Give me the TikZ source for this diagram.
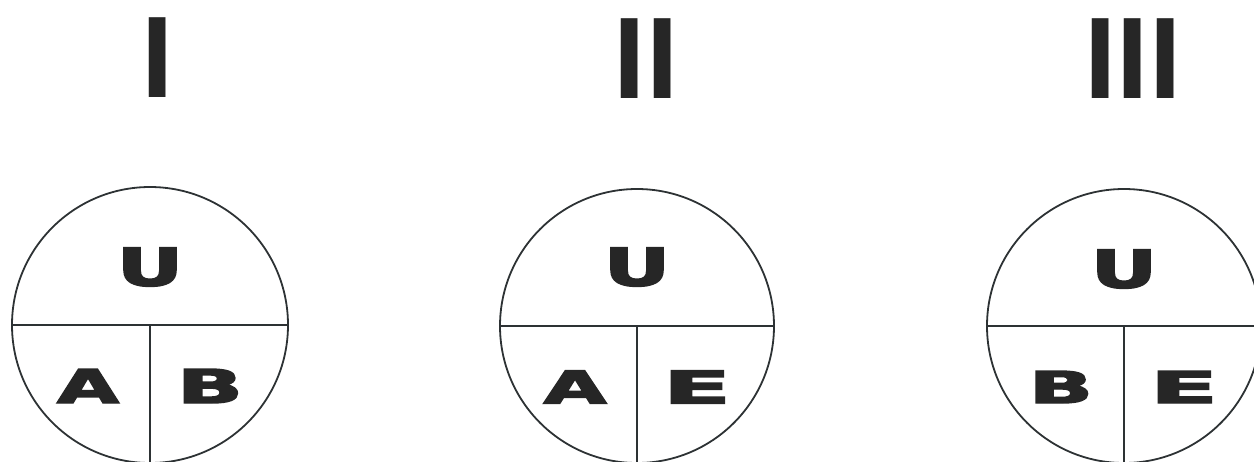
\documentclass[tikz,border=0pt]{standalone}
\usepackage{graphicx}
\usepackage{fontspec}
\newfontfamily\numfont{Liberation Sans}
\newfontfamily\letfont{DejaVu Sans}[BoldFeatures={FakeBold=3}]
\definecolor{ink}{RGB}{38,38,38}
\definecolor{rule}{RGB}{45,50,52}
\newcommand\wlet[3]{\resizebox{#1pt}{#2pt}{\letfont\bfseries #3}}
\tikzset{
  numeral/.style={inner sep=0pt, text=ink, font=\numfont\bfseries\fontsize{116}{116}\selectfont},
  letter/.style={inner sep=0pt, text=ink},
  disc/.style={draw=rule, line width=1.8pt},
  divider/.style={draw=rule, line width=1.7pt}
}
\begin{document}
\begin{tikzpicture}[x=1pt,y=-1pt]
\useasboundingbox (0,0) rectangle (1254,461);
\clip (0,0) rectangle (1254,461);
% numerals
\node[numeral] (n1) at (158,58) {I};
\node[numeral] (n2) at (646,59) {II};
\node[numeral] (n3) at (1133,59) {III};
% circle I
\coordinate (c1) at (150,325);
\draw[disc] (c1) circle[radius=138];
\draw[divider] (12,325) -- (288,325);
\draw[divider] (c1) -- (150,470);
\node[letter] (u1) at (150,267) {\wlet{66}{38}{U}};
\node[letter] (a1) at (88,386) {\wlet{62}{34}{A}};
\node[letter] (b1) at (210,386) {\wlet{66}{34}{B}};
% circle II
\coordinate (c2) at (637,326);
\draw[disc] (c2) circle[radius=137];
\draw[divider] (500,326) -- (774,326);
\draw[divider] (c2) -- (637,470);
\node[letter] (u2) at (637,267) {\wlet{66}{38}{U}};
\node[letter] (a2) at (575,387) {\wlet{63}{33}{A}};
\node[letter] (e2) at (697,387) {\wlet{68}{33}{E}};
% circle III
\coordinate (c3) at (1124,326);
\draw[disc] (c3) circle[radius=137];
\draw[divider] (987,326) -- (1261,326);
\draw[divider] (c3) -- (1124,470);
\node[letter] (u3) at (1124,269) {\wlet{66}{38}{U}};
\node[letter] (b3) at (1061,387) {\wlet{64}{32}{B}};
\node[letter] (e3) at (1184,387) {\wlet{68}{32}{E}};
\end{tikzpicture}
\end{document}
